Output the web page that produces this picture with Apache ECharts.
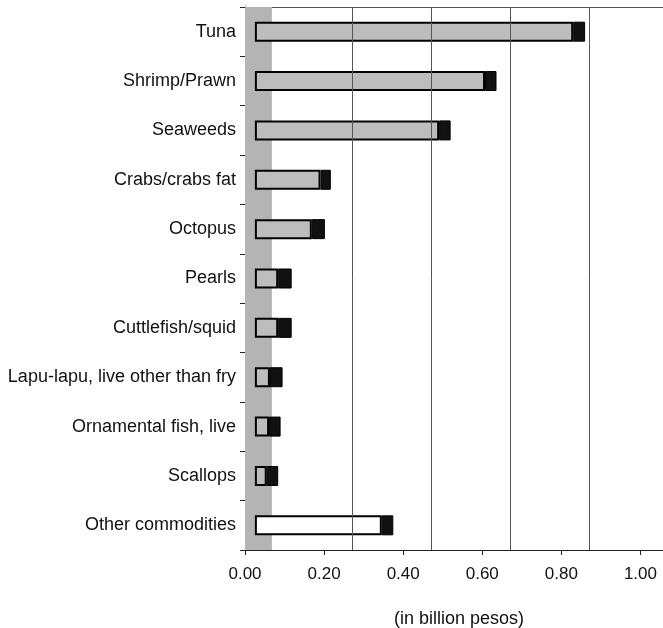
<!DOCTYPE html>
<html>
<head>
<meta charset="utf-8">
<script src="https://cdn.jsdelivr.net/npm/echarts@6/dist/echarts.min.js"></script>
<style>
  html, body { margin: 0; padding: 0; background: #fff; }
  #main { width: 663px; height: 628px; }
</style>
</head>
<body>
<div id="main"></div>
<script>
// categories, top to bottom
var categories = ['Tuna', 'Shrimp/Prawn', 'Seaweeds', 'Crabs/crabs fat', 'Octopus', 'Pearls',
    'Cuttlefish/squid', 'Lapu-lapu, live other than fry', 'Ornamental fish, live', 'Scallops', 'Other commodities'];
// end of the shaded face of each bar (billion pesos)
var faceEnd = [0.830, 0.607, 0.491, 0.191, 0.169, 0.084, 0.084, 0.063, 0.061, 0.055, 0.346];
// end of the whole bar incl. dark end face
var barEnd = [0.860, 0.636, 0.520, 0.217, 0.202, 0.118, 0.118, 0.095, 0.090, 0.084, 0.375];
var barStart = 0.025;
var tickValues = [0, 0.2, 0.4, 0.6, 0.8, 1.0];
var gridValues = [0.268, 0.468, 0.668, 0.868];
var wallWidth = 0.068;

var fontFam = '"Liberation Sans", Arial, sans-serif';

var offsetData = categories.map(function () { return barStart; });
var faceData = faceEnd.map(function (v, i) {
    return {
        value: +(v - barStart).toFixed(3),
        itemStyle: { color: i === categories.length - 1 ? '#ffffff' : '#bdbdbd' }
    };
});
var capData = barEnd.map(function (v, i) { return +(v - faceEnd[i]).toFixed(3); });

var chart = echarts.init(document.getElementById('main'));
var option = {
    animation: false,
    grid: { left: 245, right: 0, top: 7, bottom: 78, outerBoundsMode: 'none' },
    xAxis: [{
        type: 'value',
        min: 0,
        max: 1.057,
        position: 'bottom',
        splitLine: { show: false },
        axisLine: { show: true, lineStyle: { color: '#222', width: 1 } },
        axisTick: { show: true, length: 5, lineStyle: { color: '#222' }, customValues: tickValues },
        axisLabel: {
            customValues: tickValues,
            margin: 16,
            color: '#111',
            fontSize: 17,
            fontFamily: fontFam,
            formatter: function (v) { return v.toFixed(2); }
        },
        name: '(in billion pesos)',
        nameLocation: 'middle',
        nameGap: 60,
        nameTextStyle: { color: '#111', fontSize: 18, fontFamily: fontFam, padding: [0, 0, 0, 10] }
    }, {
        type: 'value',
        min: 0,
        max: 1.057,
        position: 'top',
        splitLine: { show: false },
        axisLine: { show: true, lineStyle: { color: '#555', width: 1 } },
        axisTick: { show: false },
        axisLabel: { show: false }
    }],
    yAxis: {
        type: 'category',
        inverse: true,
        data: categories,
        axisLine: { show: true, lineStyle: { color: '#222', width: 1 } },
        axisTick: { show: true, length: 5, lineStyle: { color: '#222' } },
        axisLabel: { margin: 9, color: '#111', fontSize: 18, fontFamily: fontFam }
    },
    series: [{
        name: 'offset',
        type: 'bar',
        stack: 'v',
        z: 1,
        barWidth: 20,
        itemStyle: { color: 'transparent' },
        data: offsetData,
        markArea: {
            silent: true,
            itemStyle: { color: '#b4b4b4' },
            data: [[{ xAxis: 0 }, { xAxis: wallWidth }]]
        },
        markLine: {
            silent: true,
            symbol: 'none',
            label: { show: false },
            lineStyle: { color: '#555', width: 1, type: 'solid' },
            data: gridValues.map(function (g) { return { xAxis: g }; })
        }
    }, {
        name: 'face',
        type: 'bar',
        stack: 'v',
        z: 3,
        barWidth: 20,
        itemStyle: { borderColor: '#000', borderWidth: 2 },
        data: faceData
    }, {
        name: 'cap',
        type: 'bar',
        stack: 'v',
        z: 3,
        barWidth: 20,
        itemStyle: { color: '#111', borderColor: '#000', borderWidth: 1 },
        data: capData
    }]
};
chart.setOption(option);
</script>
</body>
</html>
